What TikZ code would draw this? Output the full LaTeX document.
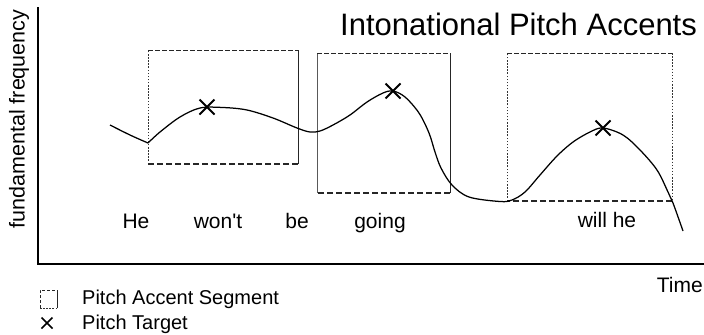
\documentclass[tikz,border=0pt]{standalone}
\usepackage{fontspec}
\setmainfont{Liberation Sans}
\usetikzlibrary{calc}
\begin{document}
\begin{tikzpicture}[x=1bp,y=-1bp,
  lbl/.style={inner sep=0pt,anchor=base,font=\fontsize{21bp}{25bp}\selectfont},
  legtxt/.style={inner sep=0pt,anchor=base west,font=\fontsize{20bp}{24bp}\selectfont},
  edgesolid/.style={line width=1bp,draw=black!85},
  edgedot/.style={line width=0.9bp,draw=black!80,dash pattern=on 1.5bp off 1.6bp},
  edgedash/.style={line width=1bp,draw=black!85,dash pattern=on 5bp off 2bp},
  edgedashb/.style={line width=1.2bp,draw=black!85,dash pattern=on 6bp off 3bp},
  axis/.style={line width=1.1bp,draw=black},
  pitch/.style={line width=1.25bp,draw=black},
  target/.style={line width=1.9bp,draw=black}
]
\useasboundingbox (0,0) rectangle (704,334);
% axes
\coordinate (ytop) at (38,7);
\coordinate (orig) at (38,264);
\coordinate (xend) at (704,264);
\draw[axis] (ytop) -- (orig) -- (xend);
\node[inner sep=0pt,rotate=90,font=\fontsize{21.5bp}{25bp}\selectfont] (ylab) at (19,119) {fundamental frequency};
\node[inner sep=0pt,anchor=base east,font=\fontsize{21bp}{25bp}\selectfont] (time) at (703,292) {Time};
\node[inner sep=0pt,anchor=base west,font=\fontsize{31bp}{36bp}\selectfont] (title) at (340,35) {Intonational Pitch Accents};
% box 1
\coordinate (a1) at (148,50); \coordinate (b1) at (298,50);
\coordinate (c1) at (298,164); \coordinate (d1) at (148,164);
\draw[edgedot] (d1) -- (a1);
\draw[edgedash] (a1) -- (b1);
\draw[edgesolid] (b1) -- (c1);
\draw[edgedashb] (c1) -- (d1);
% box 2
\coordinate (a2) at (317,53); \coordinate (b2) at (450,53);
\coordinate (c2) at (450,193); \coordinate (d2) at (317,193);
\draw[edgesolid,draw=black!65] (d2) -- (a2);
\draw[edgedash] (a2) -- (b2);
\draw[edgesolid] (b2) -- (c2);
\draw[edgedashb] (c2) -- (d2);
% box 3
\coordinate (a3) at (507,53); \coordinate (b3) at (672,53);
\coordinate (c3) at (672,201); \coordinate (d3) at (507,201);
\draw[edgedot] (d3) -- (a3);
\draw[edgedash] (a3) -- (b3);
\draw[edgedot] (b3) -- (c3);
\draw[edgedashb] (c3) -- (d3);
% pitch contour
\draw[pitch] plot[smooth,tension=0.6] coordinates {(110,125) (130,135) (148,143)};
\draw[pitch] plot[smooth,tension=0.55] coordinates {(148,143) (160,132) (180,117) (200,108) (223,107.5) (247,110) (273,118) (297,128) (310,132) (320,131) (333,125) (350,115) (367,102) (383,93) (393,91) (405,97) (419,113) (429,133) (435,152) (441,168) (452,185) (469,197) (500,201.5) (512,200) (525,192) (540,175) (557,156) (573,142) (590,132) (603,128) (623,135) (640,150) (657,170) (668,192) (673,203) (683,231)};
% targets
\foreach \n/\px/\py in {t1/207/107, t2/393/91, t3/603/128}{
  \coordinate (\n) at (\px,\py);
  \draw[target] ($(\n)+(-7.5,-7.5)$) -- ($(\n)+(7.5,7.5)$) ($(\n)+(-7.5,7.5)$) -- ($(\n)+(7.5,-7.5)$);
}
% words
\node[lbl] (w1) at (136,228) {He};
\node[lbl] (w2) at (218,228) {won\textquotesingle t};
\node[lbl] (w3) at (297,228) {be};
\node[lbl] (w4) at (380,228) {going};
\node[lbl] (w5) at (607,227) {will he};
% legend
\coordinate (la) at (40,290); \coordinate (lb) at (57,290);
\coordinate (lc) at (57,308); \coordinate (ld) at (40,308);
\draw[edgedash,dash pattern=on 3bp off 2bp] (ld) -- (la) -- (lb);
\draw[edgesolid] (lb) -- (lc);
\draw[edgedot] (lc) -- (ld);
\coordinate (lx) at (47,323);
\draw[target,line width=1.6bp] ($(lx)+(-5.5,-5.5)$) -- ($(lx)+(5.5,5.5)$) ($(lx)+(-5.5,5.5)$) -- ($(lx)+(5.5,-5.5)$);
\node[legtxt] (l1) at (82,304) {Pitch Accent Segment};
\node[legtxt] (l2) at (82,329) {Pitch Target};
\end{tikzpicture}
\end{document}
